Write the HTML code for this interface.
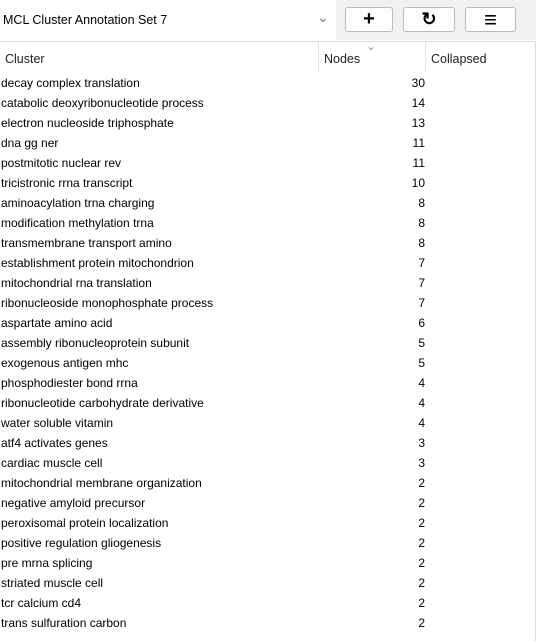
<!DOCTYPE html>
<html><head><meta charset="utf-8"><style>
body{margin:0;width:536px;height:641px;background:#fff;font-family:"Liberation Sans",sans-serif;font-size:12px;color:#000;position:relative;overflow:hidden}
.top{position:absolute;left:0;top:0;width:536px;height:40px;background:#f0f0f0}
.combo{position:absolute;left:0;top:0;width:336px;height:40px;background:#fff}
.combo span{position:absolute;left:3px;top:13px;font-size:12.5px}
.combo .arr{position:absolute;left:317px;top:9px;color:#777;font-size:14px}
.btn{position:absolute;top:7px;height:25px;background:#fdfdfd;border:1px solid #bbb;border-radius:3px;box-sizing:border-box;text-align:center;line-height:23px;font-weight:bold;font-size:20px}
.hdr{position:absolute;left:0;top:41px;width:536px;height:31px;background:#fff;border-top:1px solid #ddd}
.hdr div{position:absolute;top:0;height:31px;line-height:34px;padding-left:5px;box-sizing:border-box;border-right:1px solid #e3e3e3;font-size:12.5px;color:#222}
.row{position:absolute;left:0;height:20px;width:536px;line-height:22px}
.row .c{position:absolute;left:1px}
.row .n{position:absolute;right:111px}
.vr{position:absolute;right:0;top:41px;width:1px;height:600px;background:#ddd}
</style></head><body>
<div class="top">
<div class="combo"><span>MCL Cluster Annotation Set 7</span><span class="arr">&#8964;</span></div>
<div class="btn" style="left:345px;width:48px">+</div>
<div class="btn" style="left:403px;width:52px;font-size:18px">&#x21bb;</div>
<div class="btn" style="left:465px;width:51px;font-size:22px">&#8801;</div>
</div>
<div class="hdr">
<div style="left:0;width:319px">Cluster</div>
<div style="left:319px;width:107px">Nodes<span style="position:absolute;left:47px;top:-13px;color:#999;font-size:12px">&#8964;</span></div>
<div style="left:426px;width:110px;border-right:none">Collapsed</div>
</div>
<div id="rows"></div>
<div class="vr"></div>
<script>
const clusters=["decay complex translation","catabolic deoxyribonucleotide process","electron nucleoside triphosphate","dna gg ner","postmitotic nuclear rev","tricistronic rrna transcript","aminoacylation trna charging","modification methylation trna","transmembrane transport amino","establishment protein mitochondrion","mitochondrial rna translation","ribonucleoside monophosphate process","aspartate amino acid","assembly ribonucleoprotein subunit","exogenous antigen mhc","phosphodiester bond rrna","ribonucleotide carbohydrate derivative","water soluble vitamin","atf4 activates genes","cardiac muscle cell","mitochondrial membrane organization","negative amyloid precursor","peroxisomal protein localization","positive regulation gliogenesis","pre mrna splicing","striated muscle cell","tcr calcium cd4","trans sulfuration carbon"];
const nodes=[30,14,13,11,11,10,8,8,8,7,7,7,6,5,5,4,4,4,3,3,2,2,2,2,2,2,2,2];
const host=document.getElementById('rows');
clusters.forEach((c,i)=>{
const r=document.createElement('div');
r.className='row';r.style.top=(72+20*i)+'px';


const a=document.createElement('span');a.className='c';a.textContent=c;


const b=document.createElement('span');b.className='n';b.textContent=nodes[i];


r.appendChild(a);r.appendChild(b);host.appendChild(r);
});
</script>
</body></html>
